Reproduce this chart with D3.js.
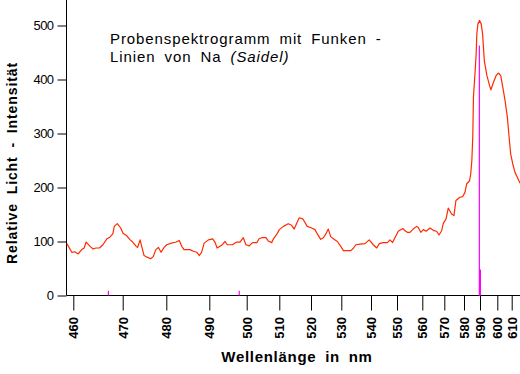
<!DOCTYPE html>
<html>
<head>
<meta charset="utf-8">
<script src="https://cdn.jsdelivr.net/npm/d3@7"></script>
<style>
  html, body { margin: 0; padding: 0; background: #fff; }
  svg { display: block; font-family: "Liberation Sans", Arial, sans-serif; }
</style>
</head>
<body>
<div id="chart"></div>
<script>
// spectrum (wavelength in nm, relative intensity)
const wavelengths = [
  458.7, 459.7, 460.3, 461.0, 461.7, 462.2, 462.6, 463.4, 464.0, 464.6,
  465.3, 466.0, 466.8, 467.4, 468.0, 468.3, 468.9, 469.6, 470.1, 470.9,
  471.7, 472.3, 473.1, 473.4, 474.0, 474.3, 474.9, 475.6, 476.4, 477.0,
  477.6, 478.2, 478.8, 479.5, 480.1, 481.2, 482.3, 483.0, 483.6, 484.1,
  485.5, 486.3, 487.1, 487.7, 488.2, 488.8, 489.8, 490.9, 491.5, 492.1,
  493.3, 494.2, 494.8, 496.2, 497.3, 498.2, 499.1, 499.8, 500.8, 501.8,
  503.1, 503.8, 504.6, 505.9, 506.6, 507.7, 508.2, 509.2, 510.0, 511.3,
  512.8, 513.9, 514.7, 515.5, 516.3, 517.4, 518.8, 520.2, 521.3, 522.1,
  523.2, 524.1, 524.9, 525.7, 526.5, 527.6, 528.7, 529.6, 530.7, 531.8,
  533.2, 534.0, 534.9, 536.3, 538.0, 539.4, 540.9, 542.2, 543.2, 544.7,
  546.3, 547.3, 548.3, 549.2, 550.5, 552.3, 553.2, 554.1, 555.1, 556.4,
  557.8, 558.4, 559.4, 560.5, 561.7, 563.5, 565.3, 566.5, 567.6, 568.8,
  569.5, 570.9, 572.0, 573.7, 574.9, 575.9, 577.9, 579.3, 580.6, 581.7,
  583.4, 584.2, 584.9, 585.5, 585.9, 587.0, 587.6, 588.0, 588.7, 589.7,
  590.7, 591.5, 592.5, 594.0, 595.5, 596.3, 597.8, 599.3, 600.7, 602.4,
  603.8, 605.4, 607.0, 608.4, 609.3, 610.7, 612.3, 613.9, 615.8
];
const intensity = [
  96, 80, 81, 77, 85, 88, 99, 91, 86, 88,
  88, 94, 105, 108, 114, 128, 133, 125, 115, 111,
  103, 99, 91, 89, 103, 93, 74, 71, 68, 72,
  85, 89, 80, 89, 94, 97, 99, 102, 91, 85,
  85, 82, 80, 74, 80, 97, 103, 105, 99, 88,
  93, 100, 94, 94, 99, 99, 107, 94, 92, 98,
  98, 105, 107, 107, 101, 98, 105, 113, 122, 128,
  133, 130, 123, 134, 144, 142, 128, 125, 122, 114,
  104, 107, 114, 123, 109, 104, 100, 93, 83, 83,
  83, 87, 94, 95, 96, 103, 94, 88, 96, 98,
  98, 103, 98, 107, 119, 124, 120, 117, 117, 123,
  128, 126, 117, 122, 119, 125, 120, 119, 112, 120,
  133, 142, 162, 151, 148, 176, 182, 183, 191, 207,
  212, 225, 250, 296, 367, 417, 447, 484, 503, 509,
  503, 484, 435, 407, 389, 381, 395, 407, 412, 407,
  386, 361, 330, 287, 262, 244, 228, 219, 208
];

// Na reference lines (magenta)
const naLines = [467.1, 498.0, 589.6, 590.0];
const naHeights = [9, 9, 463, 48];

const xTicks = [460, 470, 480, 490, 500, 510, 520, 530, 540, 550, 560, 570, 580, 590, 600, 610];
const yTicks = [0, 100, 200, 300, 400, 500];

// the wavelength axis is not linear (prism scale): tick pixel positions
const xTickPx = [73.3, 122.7, 166.3, 209.3, 246.7, 279.3, 311, 341.3, 371, 397, 422.3, 444.3, 464, 480, 497.3, 511.7];

const W = 520, H = 374;
const m = {left: 66.5, bottom: 295.5, right: 520, top: 0};

const svg = d3.select("#chart").append("svg")
  .attr("width", W).attr("height", H).attr("viewBox", `0 0 ${W} ${H}`);

svg.append("rect").attr("width", W).attr("height", H).attr("fill", "#fff");

const x = d3.scaleLinear().domain(xTicks).range(xTickPx);
const y = d3.scaleLinear().domain([0, 500]).range([m.bottom, 25.5]);

// axes
const gx = svg.append("g").attr("transform", `translate(0,${m.bottom})`)
  .call(d3.axisBottom(x).tickValues(xTicks).tickSize(15).tickFormat(d3.format("d")));
gx.select(".domain").remove();
gx.selectAll(".tick line").attr("stroke", "#000");
gx.selectAll(".tick text")
  .attr("fill", "#000")
  .attr("font-size", 13)
  .attr("font-weight", "bold")
  .attr("text-anchor", "end")
  .attr("transform", "translate(0,21.5) rotate(-90)")
  .attr("x", 0).attr("y", 0).attr("dy", "0.36em");

const gy = svg.append("g").attr("transform", `translate(${m.left},0)`)
  .call(d3.axisLeft(y).tickValues(yTicks).tickSize(9).tickPadding(4));
gy.select(".domain").remove();
gy.selectAll(".tick line").attr("stroke", "#000");
gy.selectAll(".tick text").attr("fill", "#000").attr("font-size", 13).attr("letter-spacing", -0.6);

svg.append("line").attr("x1", m.left).attr("x2", m.right).attr("y1", m.bottom).attr("y2", m.bottom)
  .attr("stroke", "#000");
svg.append("line").attr("x1", m.left).attr("x2", m.left).attr("y1", m.top).attr("y2", m.bottom)
  .attr("stroke", "#000");

// Na lines
svg.append("g").selectAll("line")
  .data(d3.zip(naLines, naHeights))
  .join("line")
  .attr("x1", d => x(d[0])).attr("x2", d => x(d[0]))
  .attr("y1", y(0)).attr("y2", d => y(d[1]))
  .attr("stroke", "#ff00ff")
  .attr("stroke-width", (d, i) => i === 3 ? 2 : 1.2);

// spectrum
const line = d3.line().x(d => x(d[0])).y(d => y(d[1]));
svg.append("path")
  .datum(d3.zip(wavelengths, intensity))
  .attr("d", line)
  .attr("fill", "none")
  .attr("stroke", "#ff2a00")
  .attr("stroke-width", 1.2)
  .attr("stroke-linejoin", "round");

// title
const title = svg.append("text").attr("x", 110).attr("y", 43.5)
  .attr("font-size", 15).attr("letter-spacing", 0.9).attr("word-spacing", 4).attr("fill", "#000");
title.append("tspan").text("Probenspektrogramm mit Funken -");
const t2 = title.append("tspan").attr("x", 110).attr("dy", 18);
t2.append("tspan").text("Linien von Na ");
t2.append("tspan").attr("font-style", "italic").text("(Saidel)");

// axis titles
svg.append("text")
  .attr("x", 297).attr("y", 361.5)
  .attr("text-anchor", "middle")
  .attr("font-size", 15).attr("font-weight", "bold")
  .attr("letter-spacing", 0.7).attr("word-spacing", 4)
  .text("Wellenlänge in nm");

svg.append("text")
  .attr("transform", "translate(17,163) rotate(-90)")
  .attr("text-anchor", "middle")
  .attr("font-size", 14).attr("font-weight", "bold")
  .attr("letter-spacing", 0.9).attr("word-spacing", 4)
  .text("Relative Licht - Intensität");
</script>
</body>
</html>
